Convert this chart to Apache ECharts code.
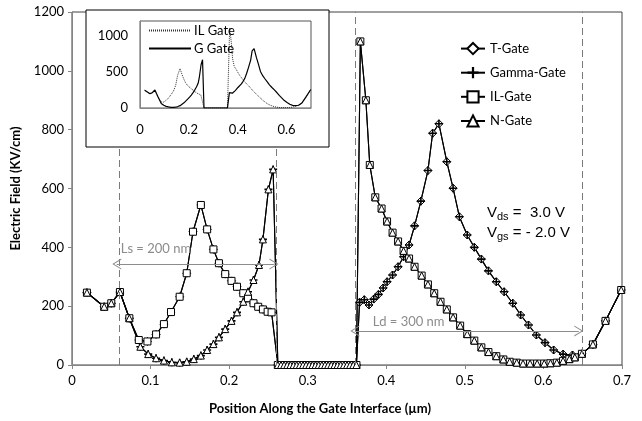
<!DOCTYPE html>
<html>
<head>
<meta charset="utf-8">
<script src="https://cdn.jsdelivr.net/npm/echarts@6/dist/echarts.min.js"></script>
<style>
  body { margin: 0; background: #fff; }
  #main { width: 642px; height: 421px; }
</style>
</head>
<body>
<div id="main"></div>
<script>
// values, [position (um), field (KV/cm)]
const startPts = [[0.019, 246], [0.041, 198], [0.050, 210], [0.061, 248], [0.073, 159]];

// source side, peak near the source edge (IL / T gate)
const sourcePeak = [[0.085, 85], [0.096, 80], [0.107, 104], [0.117, 139], [0.126, 180], [0.137, 232],
  [0.146, 312], [0.154, 453], [0.164, 544], [0.172, 461], [0.180, 393], [0.187, 346], [0.195, 309],
  [0.203, 286], [0.210, 266], [0.218, 244], [0.224, 227], [0.231, 210], [0.237, 198], [0.243, 189],
  [0.249, 181], [0.254, 179]];

// source side, ramp up to the gate edge (Gamma / N gate)
const sourceRamp = [[0.087, 62], [0.097, 37], [0.107, 23], [0.117, 15], [0.127, 9], [0.137, 8],
  [0.146, 11], [0.155, 20], [0.164, 32], [0.172, 51], [0.180, 71], [0.187, 94], [0.195, 122],
  [0.203, 150], [0.210, 179], [0.218, 215], [0.224, 249], [0.231, 289], [0.238, 340], [0.243, 427],
  [0.250, 597], [0.256, 665]];

// under the gate
const gapPts = [[0.262, 0], [0.266, 0], [0.270, 0], [0.274, 0], [0.278, 0], [0.282, 0], [0.286, 0],
  [0.290, 0], [0.294, 0], [0.298, 0], [0.302, 0], [0.306, 0], [0.310, 0], [0.314, 0], [0.318, 0],
  [0.322, 0], [0.326, 0], [0.330, 0], [0.334, 0], [0.338, 0], [0.342, 0], [0.346, 0], [0.350, 0],
  [0.354, 0], [0.358, 0], [0.362, 0]];

// drain side, spike at the gate edge (IL / N gate)
const drainSpike = [[0.367, 1100], [0.374, 900], [0.379, 680], [0.386, 570], [0.394, 532], [0.401, 488],
  [0.408, 450], [0.415, 420], [0.422, 388], [0.429, 362], [0.436, 334], [0.445, 304], [0.453, 274],
  [0.461, 244], [0.469, 215], [0.477, 189], [0.485, 162], [0.494, 134], [0.503, 105], [0.512, 83],
  [0.521, 60], [0.530, 44], [0.540, 30], [0.549, 19], [0.557, 11], [0.566, 8], [0.574, 5], [0.583, 5],
  [0.592, 5], [0.601, 5], [0.609, 6], [0.617, 8], [0.625, 14], [0.633, 20], [0.640, 26]];

// drain side, peak away from the gate (T / Gamma gate)
const drainPeak = [[0.366, 213], [0.372, 222], [0.378, 204], [0.384, 224], [0.390, 240], [0.396, 262],
  [0.401, 283], [0.408, 306], [0.415, 334], [0.422, 368], [0.429, 408], [0.436, 473], [0.444, 557],
  [0.453, 661], [0.459, 788], [0.467, 820], [0.477, 691], [0.485, 601], [0.493, 504], [0.503, 442],
  [0.512, 400], [0.521, 360], [0.530, 320], [0.540, 283], [0.550, 249], [0.561, 210], [0.571, 170],
  [0.581, 136], [0.591, 102], [0.602, 76], [0.613, 51], [0.625, 37], [0.637, 34]];

const endPts = [[0.649, 38], [0.663, 70], [0.679, 150], [0.699, 255]];

const tGate = startPts.concat(sourcePeak, gapPts, drainPeak, endPts);
const gammaGate = startPts.concat(sourceRamp, gapPts, drainPeak, endPts);
const ilGate = startPts.concat(sourcePeak, gapPts, drainSpike, endPts);
const nGate = startPts.concat(sourceRamp, gapPts, drainSpike, endPts);

const xTicks = ['0', '0.1', '0.2', '0.3', '0.4', '0.5', '0.6', '0.7'];
const insetXTicks = ['0', '0.2', '0.4', '0.6'];
const insetYTicks = ['0', '500', '1000'];
const edgeLines = [0.057, 0.257, 0.36, 0.645];   // dashed edges
const lsArrow = [0.057, 0.257, 343];
const ldArrow = [0.36, 0.645, 116];

var FONT = 'Lato';
var GRAY = '#868686';
var chevron = 'path://M5,0 L10,10 L9,10 L5,2 L1,10 L0,10 Z';
var plusSym = 'path://M4,0 L6,0 L6,4 L10,4 L10,6 L6,6 L6,10 L4,10 L4,6 L0,6 L0,4 L4,4 Z';

function tickText(list) {
  return function (v) {
    var s = String(Math.round(v * 10) / 10);
    return list.indexOf(s) >= 0 ? s : '';
  };
}

function mainSeries(name, data, symbol, size, fill) {
  return {
    name: name, type: 'line', data: data, xAxisIndex: 0, yAxisIndex: 0,
    symbol: symbol, symbolSize: size, showAllSymbol: true,
    lineStyle: { color: '#000', width: 1.1 },
    itemStyle: { color: fill, borderColor: '#000', borderWidth: 1 },
    emphasis: { disabled: true }, animation: false
  };
}

var chart = echarts.init(document.getElementById('main'));

var sT = mainSeries('T-Gate', tGate, 'diamond', 8, '#fff');
sT.markLine = {
  silent: true, symbol: 'none', animation: false,
  lineStyle: { color: '#7a7a7a', type: [7, 4], width: 1 },
  label: { show: false },
  data: edgeLines.map(function (v) { return { xAxis: v }; })
};

var sG = mainSeries('Gamma-Gate', gammaGate, plusSym, 8, '#000');
sG.itemStyle.borderWidth = 0;
sG.markLine = {
  silent: true, animation: false,
  symbol: [chevron, chevron], symbolSize: [11, 9],
  lineStyle: { color: '#8c8c8c', type: 'solid', width: 1.2 },
  itemStyle: { color: '#8c8c8c' },
  data: [
    [{ coord: [lsArrow[0], lsArrow[2]],
       label: { show: true, formatter: 'Ls = 200 nm', position: 'insideStartTop', distance: [4, 9],
                color: '#8c8c8c', fontFamily: FONT, fontSize: 13 } },
     { coord: [lsArrow[1], lsArrow[2]] }],
    [{ coord: [ldArrow[0], ldArrow[2]],
       label: { show: true, formatter: 'Ld = 300 nm', position: 'insideStartTop', distance: [18, 3],
                color: '#8c8c8c', fontFamily: FONT, fontSize: 13 } },
     { coord: [ldArrow[1], ldArrow[2]] }]
  ]
};

var sIL = mainSeries('IL-Gate', ilGate, 'rect', 7, '#fff');
var sN = mainSeries('N-Gate', nGate, 'triangle', 7, '#fff');

var option = {
  backgroundColor: '#fff',
  animation: false,
  textStyle: { fontFamily: FONT },
  grid: [
    { left: 72, right: 20, top: 12, bottom: 56, show: true, borderColor: '#404040', borderWidth: 1 },
    { left: 140, top: 21, width: 171, height: 87, show: true, borderColor: '#555', borderWidth: 1,
      backgroundColor: '#fff', z: 20 }
  ],
  xAxis: [
    { type: 'value', gridIndex: 0, min: 0, max: 0.7, interval: 0.1,
      name: 'Position Along the Gate Interface (\u00b5m)', nameLocation: 'middle', nameGap: 37,
      nameTextStyle: { fontWeight: 'bold', fontSize: 13, color: '#000', padding: [0, 54, 0, 0] },
      axisLine: { lineStyle: { color: GRAY } },
      axisTick: { show: true, length: 4, lineStyle: { color: GRAY } },
      axisLabel: { color: '#000', fontSize: 13, margin: 9, formatter: tickText(xTicks) },
      splitLine: { show: false } },
    { type: 'value', gridIndex: 1, min: 0, max: 0.7, interval: 0.2, z: 20,
      axisLine: { lineStyle: { color: GRAY } },
      axisTick: { show: false },
      axisLabel: { color: '#000', fontSize: 13, margin: 15, formatter: tickText(insetXTicks) },
      splitLine: { show: false } }
  ],
  yAxis: [
    { type: 'value', gridIndex: 0, min: 0, max: 1200, interval: 200,
      name: 'Electric Field (KV/cm)', nameLocation: 'middle', nameGap: 50,
      nameTextStyle: { fontWeight: 'bold', fontSize: 13, color: '#000' },
      axisLine: { show: true, lineStyle: { color: GRAY } },
      axisTick: { show: true, length: 4, lineStyle: { color: GRAY } },
      axisLabel: { color: '#000', fontSize: 13, margin: 8, formatter: function (v) { return String(v); } },
      splitLine: { show: false } },
    { type: 'value', gridIndex: 1, min: 0, max: 1200, interval: 500, z: 20,
      axisLine: { show: true, lineStyle: { color: GRAY } },
      axisTick: { show: false },
      axisLabel: { color: '#000', fontSize: 13, margin: 12,
        formatter: function (v) { return insetYTicks.indexOf(String(v)) >= 0 ? String(v) : ''; } },
      splitLine: { show: false } }
  ],
  legend: [
    { data: ['T-Gate', 'Gamma-Gate', 'IL-Gate', 'N-Gate'], orient: 'vertical', left: 455, top: 37,
      itemWidth: 24, itemHeight: 14, itemGap: 11, selectedMode: false,
      textStyle: { fontSize: 13, color: '#000', fontFamily: FONT } },
    { data: ['IL Gate', 'G Gate'], orient: 'vertical', left: 143, top: 19, z: 25,
      itemWidth: 42, itemHeight: 10, itemGap: 5, selectedMode: false,
      itemStyle: { opacity: 0 },
      textStyle: { fontSize: 13, color: '#000', fontFamily: FONT, padding: [0, 0, 0, -2] } }
  ],
  graphic: [
    { type: 'rect', z: 10, shape: { x: 86, y: 10, width: 243, height: 137 },
      style: { fill: '#fff', stroke: '#000', lineWidth: 1 } },
    { type: 'text', z: 10, left: 487, top: 205,
      style: { text: '{a|V}{b|ds}{a| =  3.0 V}', fontFamily: FONT,
        rich: { a: { fontSize: 15, fill: '#000' }, b: { fontSize: 11, fill: '#000', padding: [8, 0, 0, 0] } } } },
    { type: 'text', z: 10, left: 487, top: 225,
      style: { text: '{a|V}{b|gs}{a| = - 2.0 V}', fontFamily: FONT,
        rich: { a: { fontSize: 15, fill: '#000' }, b: { fontSize: 11, fill: '#000', padding: [8, 0, 0, 0] } } } }
  ],
  series: [
    sT, sG, sIL, sN,
    { name: 'IL Gate', type: 'line', data: ilGate, xAxisIndex: 1, yAxisIndex: 1, z: 21,
      showSymbol: false, symbol: 'none', lineStyle: { color: '#333', width: 1, type: [1, 1] },
      itemStyle: { color: '#333' }, emphasis: { disabled: true } },
    { name: 'G Gate', type: 'line', data: gammaGate, xAxisIndex: 1, yAxisIndex: 1, z: 22,
      showSymbol: false, symbol: 'none', lineStyle: { color: '#000', width: 1.2 },
      itemStyle: { color: '#000' }, emphasis: { disabled: true } }
  ]
};

chart.setOption(option);
</script>
</body>
</html>
